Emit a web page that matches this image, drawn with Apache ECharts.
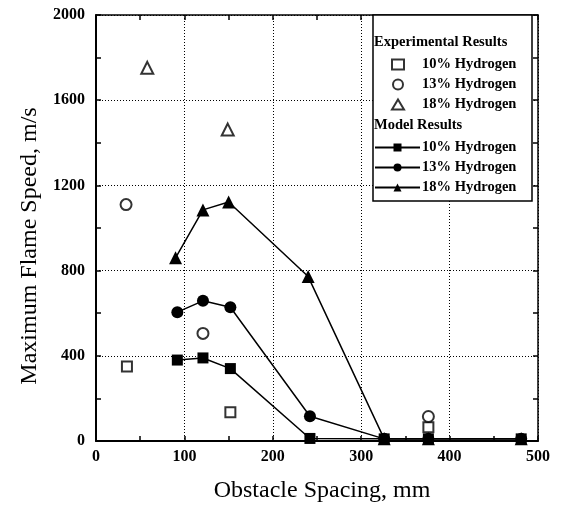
<!DOCTYPE html>
<html><head><meta charset="utf-8">
<script src="https://cdn.jsdelivr.net/npm/echarts@6/dist/echarts.min.js"></script>
<style>html,body{margin:0;padding:0;background:#fff}#c{width:566px;height:508px}</style>
</head><body><div id="c"></div>
<script>
// Experimental results [spacing mm, speed m/s]
var exp10 = [[35, 350], [152, 135], [376, 65]];
var exp13 = [[34, 1110], [121, 505], [376, 115]];
var exp18 = [[58, 1752], [149, 1462]];
// Model results
var mod10 = [[92, 380], [121, 390], [152, 340], [242, 12], [326, 10], [376, 10], [481, 10]];
var mod13 = [[92, 605], [121, 658], [152, 628], [242, 116], [326, 10], [376, 10], [481, 10]];
var mod18 = [[90, 860], [121, 1085], [150, 1122], [240, 772], [326, 10], [376, 10], [481, 10]];
var xTicks = [0, 100, 200, 300, 400, 500];
var yTicks = [0, 400, 800, 1200, 1600, 2000];

var serif = '"Liberation Serif", "DejaVu Serif", serif';
var chart = echarts.init(document.getElementById('c'), null, {renderer: 'canvas'});
var plain = function (v) { return String(v); };
var option = {
  animation: false,
  backgroundColor: '#fff',
  grid: {left: 96, right: 28, top: 15, bottom: 62, containLabel: false},
  xAxis: [{
    type: 'value', min: xTicks[0], max: xTicks[xTicks.length - 1], interval: 100,
    name: 'Obstacle Spacing, mm', nameLocation: 'middle', nameGap: 38,
    nameTextStyle: {fontFamily: serif, fontSize: 24, color: '#000', padding: [0, 0, 0, 10]},
    axisLine: {show: true, onZero: false, lineStyle: {color: '#000', width: 2}},
    axisTick: {show: true, inside: true, length: 5, lineStyle: {color: '#000', width: 1.5}},
    minorTick: {show: true, splitNumber: 2, length: 5, lineStyle: {color: '#000', width: 1.5}},
    axisLabel: {fontFamily: serif, fontSize: 16, fontWeight: 'bold', color: '#000', margin: 8, formatter: plain},
    splitLine: {show: true, lineStyle: {color: '#000', type: [1, 2], width: 1}}
  }, {
    type: 'value', position: 'top', min: 0, max: 500, interval: 100,
    axisLine: {show: true, onZero: false, lineStyle: {color: '#000', width: 1.5}},
    axisTick: {show: true, inside: true, length: 5, lineStyle: {color: '#000', width: 1.5}},
    minorTick: {show: true, splitNumber: 2, length: 5, lineStyle: {color: '#000', width: 1.5}},
    axisLabel: {show: false}, splitLine: {show: false}
  }],
  yAxis: [{
    type: 'value', min: yTicks[0], max: yTicks[yTicks.length - 1], interval: 400,
    name: 'Maximum Flame Speed, m/s', nameLocation: 'middle', nameGap: 51, nameRotate: 90,
    nameTextStyle: {fontFamily: serif, fontSize: 24, color: '#000', padding: [0, 36, 0, 0]},
    axisLine: {show: true, onZero: false, lineStyle: {color: '#000', width: 2}},
    axisTick: {show: true, inside: true, length: 5, lineStyle: {color: '#000', width: 1.5}},
    minorTick: {show: true, splitNumber: 2, length: 5, lineStyle: {color: '#000', width: 1.5}},
    axisLabel: {fontFamily: serif, fontSize: 16, fontWeight: 'bold', color: '#000', margin: 11, formatter: plain},
    splitLine: {show: true, lineStyle: {color: '#000', type: [1, 2], width: 1}}
  }, {
    type: 'value', position: 'right', min: 0, max: 2000, interval: 400,
    axisLine: {show: true, onZero: false, lineStyle: {color: '#000', width: 1.5}},
    axisTick: {show: true, inside: true, length: 5, lineStyle: {color: '#000', width: 1.5}},
    minorTick: {show: true, splitNumber: 2, length: 5, lineStyle: {color: '#000', width: 1.5}},
    axisLabel: {show: false}, splitLine: {show: false}
  }],
  graphic: [
    {type: 'rect', z: 3, shape: {x: 373, y: 15, width: 159, height: 186},
     style: {fill: '#fff', stroke: '#000', lineWidth: 1.5}},
    {type: 'text', z: 20, left: 374, top: 35,
     style: {text: 'Experimental Results', font: 'bold 14.5px ' + serif, fill: '#000'}},
    {type: 'text', z: 20, left: 374, top: 118,
     style: {text: 'Model Results', font: 'bold 14.5px ' + serif, fill: '#000'}}
  ],
  legend: [{
    z: 20, orient: 'vertical', left: 386, top: 52, itemWidth: 12, itemHeight: 10, itemGap: 5,
    data: ['10% Hydrogen', '13% Hydrogen', '18% Hydrogen'],
    textStyle: {fontFamily: serif, fontSize: 14.5, fontWeight: 'bold', color: '#000', padding: [0, 0, 0, 13]},
    selectedMode: false
  }, {
    z: 20, orient: 'vertical', left: 369, top: 135, itemWidth: 45, itemHeight: 10, itemGap: 5,
    data: ['10% Hydrogen ', '13% Hydrogen ', '18% Hydrogen '],
    textStyle: {fontFamily: serif, fontSize: 14.5, fontWeight: 'bold', color: '#000', padding: [0, 0, 0, -3]},
    selectedMode: false
  }],
  series: [
    {name: '10% Hydrogen', type: 'scatter', data: exp10, symbol: 'rect', symbolSize: 10,
     itemStyle: {color: '#fff', borderColor: '#000', borderWidth: 2}, z: 4},
    {name: '13% Hydrogen', type: 'scatter', data: exp13, symbol: 'circle', symbolSize: 11,
     itemStyle: {color: '#fff', borderColor: '#000', borderWidth: 2}, z: 4},
    {name: '18% Hydrogen', type: 'scatter', data: exp18, symbol: 'triangle', symbolSize: 12,
     itemStyle: {color: '#fff', borderColor: '#000', borderWidth: 2}, z: 4},
    {name: '10% Hydrogen ', type: 'line', data: mod10, symbol: 'rect', symbolSize: 11,
     itemStyle: {color: '#000'}, lineStyle: {color: '#000', width: 1.5}, z: 5},
    {name: '13% Hydrogen ', type: 'line', data: mod13, symbol: 'circle', symbolSize: 12,
     itemStyle: {color: '#000'}, lineStyle: {color: '#000', width: 1.5}, z: 5},
    {name: '18% Hydrogen ', type: 'line', data: mod18, symbol: 'triangle', symbolSize: 13,
     itemStyle: {color: '#000'}, lineStyle: {color: '#000', width: 1.5}, z: 5}
  ]
};
chart.setOption(option);
</script></body></html>
